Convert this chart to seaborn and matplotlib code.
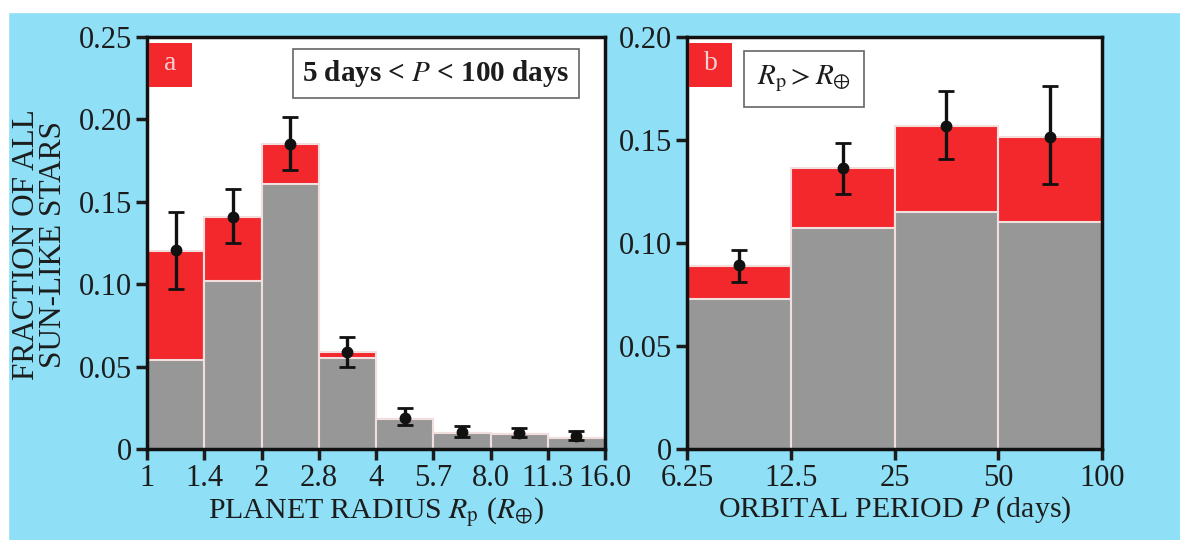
import numpy as np
import seaborn as sns
import matplotlib.pyplot as plt
from matplotlib.patches import Rectangle

# Panel a: planet radius bins (R_earth), 5 days < P < 100 days
radius_edges = ['1', '1.4', '2', '2.8', '4', '5.7', '8.0', '11.3', '16.0']
radius_bins = ['1-1.4', '1.4-2', '2-2.8', '2.8-4', '4-5.7', '5.7-8', '8-11.3', '11.3-16']
radius_total = [0.120, 0.141, 0.185, 0.059, 0.018, 0.0097, 0.009, 0.0067]   # red top (incl. correction)
radius_gray = [0.054, 0.102, 0.161, 0.055, 0.018, 0.0097, 0.009, 0.0067]    # gray (detected)
radius_point = [0.121, 0.141, 0.185, 0.059, 0.019, 0.0103, 0.0097, 0.008]
radius_err_hi = [0.144, 0.158, 0.2015, 0.068, 0.025, 0.014, 0.0128, 0.011]
radius_err_lo = [0.097, 0.125, 0.169, 0.050, 0.0146, 0.0073, 0.0073, 0.0055]

# Panel b: orbital period bins (days), R_p > R_earth
period_edges = ['6.25', '12.5', '25', '50', '100']
period_bins = ['6.25-12.5', '12.5-25', '25-50', '50-100']
period_total = [0.0888, 0.1364, 0.157, 0.1515]
period_gray = [0.0728, 0.1073, 0.115, 0.110]
period_point = [0.0893, 0.1364, 0.157, 0.1515]
period_err_hi = [0.0966, 0.1485, 0.174, 0.176]
period_err_lo = [0.081, 0.124, 0.141, 0.1286]

BLUE = '#8fe0f6'
RED = '#f2282d'
GRAY = '#979797'
EDGE = '#f3dede'
INK = '#1c1c1c'

sns.set_style('ticks')
plt.rcParams['font.family'] = ['Liberation Serif', 'DejaVu Serif']
plt.rcParams['mathtext.fontset'] = 'stix'

fig = plt.figure(figsize=(11.8, 5.4), dpi=100, facecolor=BLUE)
# white margin strips of the scanned page
fig.patches.append(Rectangle((0, 1 - 12 / 540), 1, 12 / 540, transform=fig.transFigure,
                             color='white', zorder=-1))
fig.patches.append(Rectangle((0, 0), 8 / 1180, 1, transform=fig.transFigure,
                             color='white', zorder=-1))

ax_a = fig.add_axes([147 / 1180, 1 - 449 / 540, (605 - 147) / 1180, (449 - 37) / 540])
ax_b = fig.add_axes([687 / 1180, 1 - 449 / 540, (1102 - 687) / 1180, (449 - 37) / 540])


def draw_panel(ax, bins, edges, total, gray, point, lo, hi, ymax, yticks, ylabels):
    sns.barplot(x=bins, y=total, order=bins, color=RED, saturation=1, width=1,
                edgecolor=EDGE, linewidth=1.5, ax=ax)
    sns.barplot(x=bins, y=gray, order=bins, color=GRAY, saturation=1, width=1,
                edgecolor=EDGE, linewidth=1.5, ax=ax)
    xs = np.arange(len(bins))
    point = np.array(point)
    yerr = [point - np.array(lo), np.array(hi) - point]
    ax.errorbar(xs, point, yerr=yerr, fmt='o', color='#111111', ms=7.5,
                elinewidth=2.4, capsize=6, capthick=2, zorder=5)
    ax.set_xlim(-0.5, len(bins) - 0.5)
    ax.set_ylim(0, ymax)
    ax.set_xticks(np.arange(len(edges)) - 0.5)
    ax.set_xticklabels(edges)
    ax.set_yticks(yticks)
    ax.set_yticklabels(ylabels)
    ax.set_facecolor('white')
    for s in ax.spines.values():
        s.set_linewidth(2.5)
        s.set_color('#111111')
    ax.tick_params(direction='out', length=8, width=2.5, labelsize=22, colors=INK, pad=3)
    ax.set_ylabel('')


draw_panel(ax_a, radius_bins, radius_edges, radius_total, radius_gray, radius_point,
           radius_err_lo, radius_err_hi, 0.25,
           [0, 0.05, 0.10, 0.15, 0.20, 0.25], ['0', '0.05', '0.10', '0.15', '0.20', '0.25'])
draw_panel(ax_b, period_bins, period_edges, period_total, period_gray, period_point,
           period_err_lo, period_err_hi, 0.20,
           [0, 0.05, 0.10, 0.15, 0.20], ['0', '0.05', '0.10', '0.15', '0.20'])

ax_a.set_xlabel(r'PLANET RADIUS $R_{\mathrm{p}}$ ($R_{\oplus}$)', fontsize=21.5, color=INK,
                labelpad=1)
ax_b.set_xlabel(r'ORBITAL PERIOD $P$ (days)', fontsize=21.5, color=INK, labelpad=1)
fig.text(40 / 1180, 1 - 245 / 540, 'FRACTION OF ALL\nSUN-LIKE STARS', rotation=90,
         ha='center', va='center', fontsize=22.5, color=INK, linespacing=0.95)

# panel letters in red squares
for ax, letter, w in [(ax_a, 'a', 458), (ax_b, 'b', 415)]:
    x0, y0 = 2 / w, 1 - 50 / 412
    ax.add_patch(Rectangle((x0, y0), 43 / w, 44 / 412, transform=ax.transAxes,
                           fc=RED, ec='none', zorder=6))
    ax.text(x0 + 21.5 / w, y0 + 24 / 412, letter, transform=ax.transAxes,
            ha='center', va='center', fontsize=20, color='#f5d0d0', zorder=7)

ax_a.text(0.631, 0.911, r'5 days < $\mathbf{\mathit{P}}$ < 100 days', transform=ax_a.transAxes,
          ha='center', va='center', fontsize=21, fontweight='bold', color=INK,
          bbox=dict(boxstyle='square,pad=0.3', fc='white', ec='#666666', lw=1.2))
ax_b.text(0.281, 0.898, r'$R_{\mathrm{p}}>R_{\oplus}$', transform=ax_b.transAxes,
          ha='center', va='center', fontsize=21, color=INK,
          bbox=dict(boxstyle='square,pad=0.45', fc='white', ec='#666666', lw=1.2))

plt.savefig('out.png', dpi=100, facecolor=BLUE)
